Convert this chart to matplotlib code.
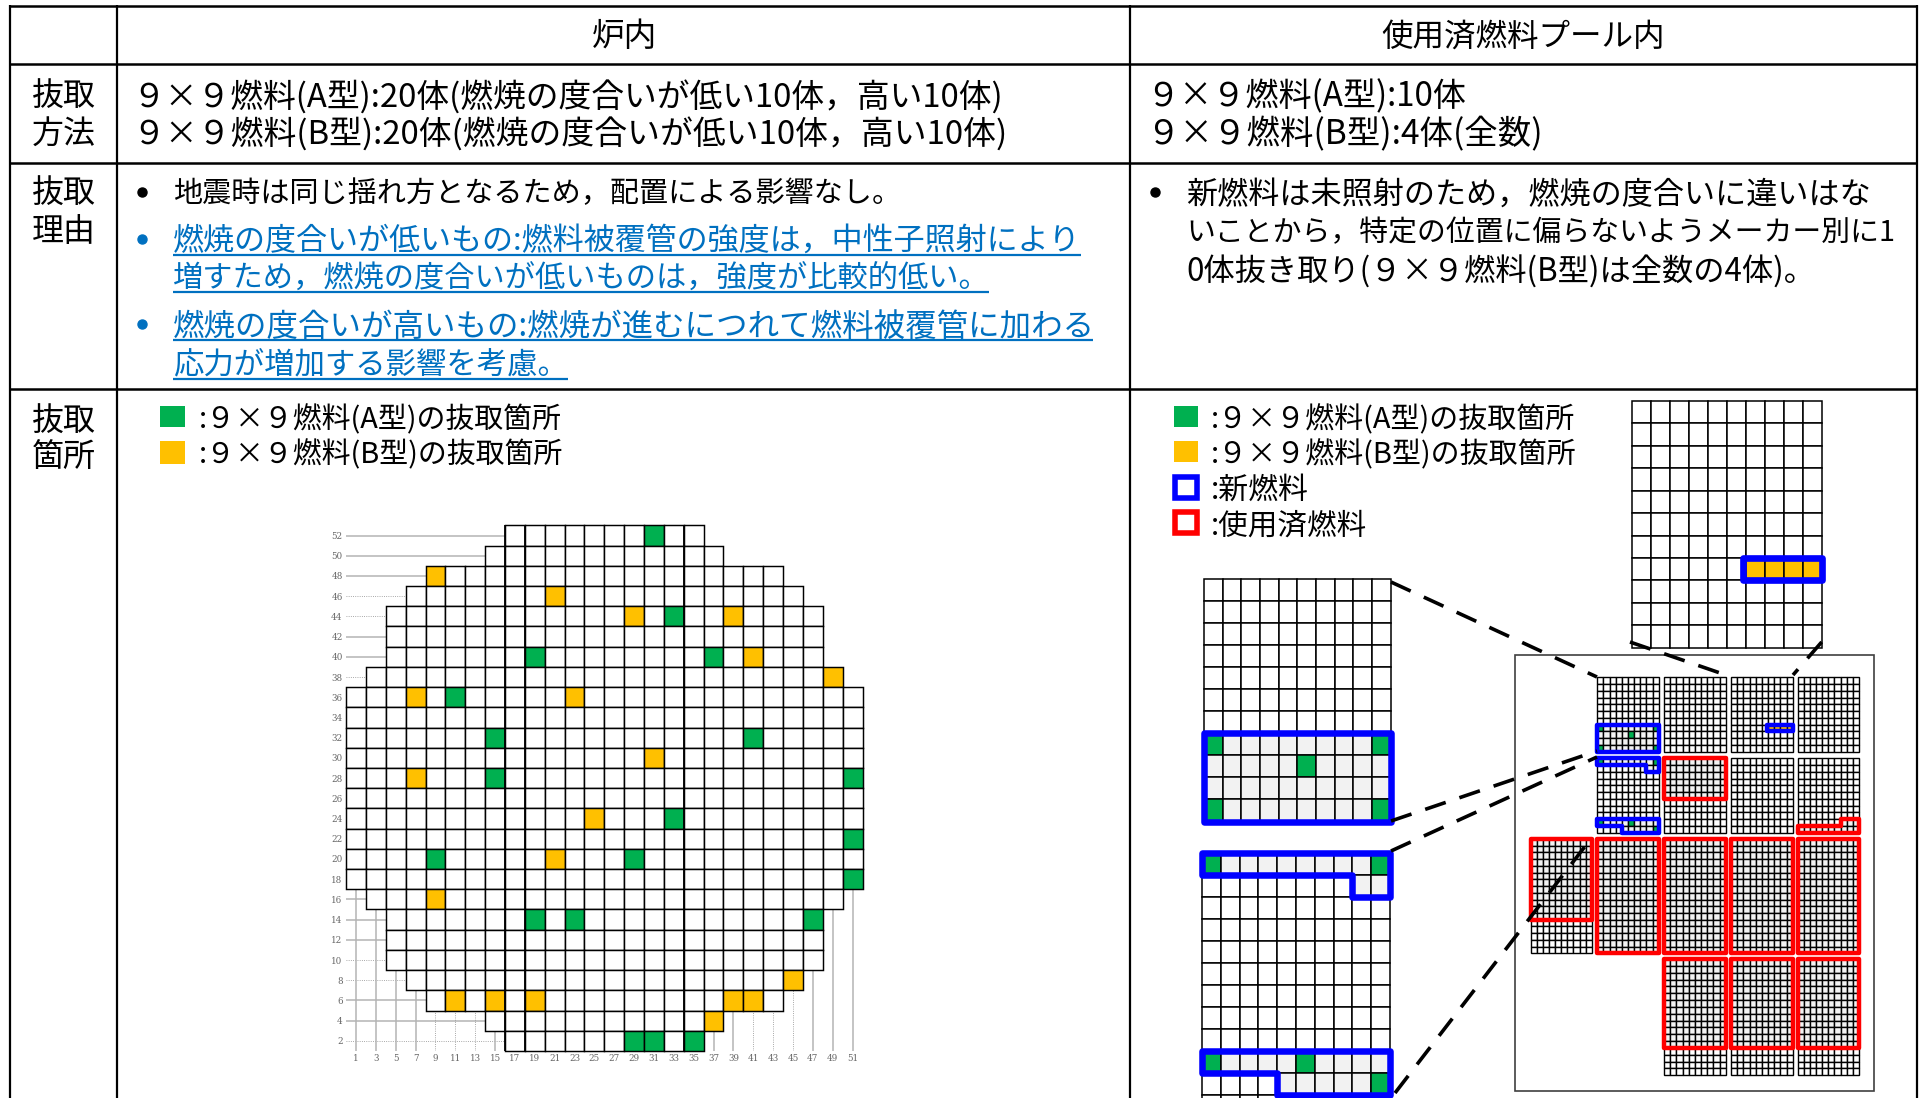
import matplotlib
matplotlib.use("Agg")
import matplotlib.pyplot as plt
from matplotlib.patches import Rectangle, Polygon

plt.rcParams['font.family'] = ['Noto Sans CJK JP', 'DejaVu Sans']

W, H = 1919, 1098
GREEN, YELLOW, BLUE, RED = '#00B050', '#FFC000', '#0000FF', '#FF0000'
LINK = '#0070C0'
SPENT = '#F2F2F2'

# ---- core map data (col, row labels) ----
core_rows = [52, 50, 48, 46, 44, 42, 40, 38, 36, 34, 32, 30, 28, 26, 24, 22, 20, 18, 16, 14, 12, 10, 8, 6, 4, 2]
core_first = [17, 15, 9, 7, 5, 5, 5, 3, 1, 1, 1, 1, 1, 1, 1, 1, 1, 1, 3, 5, 5, 5, 7, 9, 15, 17]
core_last = [35, 37, 43, 45, 47, 47, 47, 49, 51, 51, 51, 51, 51, 51, 51, 51, 51, 51, 49, 47, 47, 47, 45, 43, 37, 35]
core_green = [(31, 52), (33, 44), (19, 40), (37, 40), (11, 36), (15, 32), (41, 32), (15, 28), (51, 28), (33, 24),
              (51, 22), (9, 20), (29, 20), (51, 18), (19, 14), (23, 14), (47, 14), (29, 2), (31, 2), (35, 2)]
core_yellow = [(9, 48), (21, 46), (29, 44), (39, 44), (41, 40), (49, 38), (7, 36), (23, 36), (31, 30), (7, 28),
               (25, 24), (21, 20), (9, 16), (45, 8), (11, 6), (15, 6), (19, 6), (39, 6), (41, 6), (37, 4)]
core_cols = list(range(1, 52, 2))
dotted_rows = [46, 44, 38, 10, 8, 2]
dotted_cols = [9, 11, 13, 41, 43, 45]

# ---- table text ----
head_core = '炉内'
head_pool = '使用済燃料プール内'
row_labels = [('抜取', '方法'), ('抜取', '理由'), ('抜取', '箇所')]
method_core = ['９×９燃料(A型):20体(燃焼の度合いが低い10体，高い10体)',
               '９×９燃料(B型):20体(燃焼の度合いが低い10体，高い10体)']
method_pool = ['９×９燃料(A型):10体', '９×９燃料(B型):4体(全数)']
reason_core = '地震時は同じ揺れ方となるため，配置による影響なし。'
reason_low = ['燃焼の度合いが低いもの:燃料被覆管の強度は，中性子照射により',
              '増すため，燃焼の度合いが低いものは，強度が比較的低い。']
reason_high = ['燃焼の度合いが高いもの:燃焼が進むにつれて燃料被覆管に加わる',
               '応力が増加する影響を考慮。']
reason_pool = ['新燃料は未照射のため，燃焼の度合いに違いはな',
               'いことから，特定の位置に偏らないようメーカー別に1',
               '0体抜き取り(９×９燃料(B型)は全数の4体)。']
legend_a = ':９×９燃料(A型)の抜取箇所'
legend_b = ':９×９燃料(B型)の抜取箇所'
legend_new = ':新燃料'
legend_used = ':使用済燃料'

# ---- pool rack data: (col, row) in rack cells ----
rack_a_green = [(0, 7), (9, 7), (5, 8), (0, 10), (9, 10)]
rack_b_green = [(0, 0), (9, 0), (0, 9), (5, 9), (9, 10)]
rack_y_cells = [(6, 7), (7, 7), (8, 7), (9, 7)]
shape_four = [(0, 7), (10, 7), (10, 11), (0, 11)]
shape_top = [(0, 0), (10, 0), (10, 2), (8, 2), (8, 1), (0, 1)]
shape_bot = [(0, 9), (10, 9), (10, 11), (4, 11), (4, 10), (0, 10)]
shape_yel = [(5.85, 7), (10, 7), (10, 8), (5.85, 8)]
shape_red_l = [(0, 10), (7, 10), (7, 9), (10, 9), (10, 11), (0, 11)]

fig = plt.figure(figsize=(W / 100, H / 100), dpi=100)
ax = fig.add_axes([0, 0, 1, 1])
ax.set_xlim(0, W)
ax.set_ylim(H, 0)
ax.axis('off')
renderer = fig.canvas.get_renderer()


def fit(x0, x1, y, s, color='black', base=21):
    t = ax.text(x0, y + 2, s, fontsize=base, color=color, ha='left', va='center')
    w = t.get_window_extent(renderer).width
    t.set_fontsize(base * (x1 - x0) / w)
    return t


def sub_axes(x0, y0, x1, y1, xlim, ylim):
    a = fig.add_axes([x0 / W, 1 - y1 / H, (x1 - x0) / W, (y1 - y0) / H])
    a.set_xlim(*xlim)
    a.set_ylim(*ylim)
    a.patch.set_alpha(0)
    for s in a.spines.values():
        s.set_visible(False)
    a.set_xticks([])
    a.set_yticks([])
    return a


# ---- table rules ----
for y in (5.5, 64, 162.5, 389):
    ax.plot([9, 1917], [y, y], color='black', lw=1.8, solid_capstyle='butt')
for x in (9.5, 117, 1130, 1917):
    ax.plot([x, x], [5, H], color='black', lw=1.6, solid_capstyle='butt')

ax.text(624, 37, head_core, fontsize=23.5, ha='center', va='center')
ax.text(1523.5, 37, head_pool, fontsize=22.7, ha='center', va='center')
for (a, b), (y1, y2) in zip(row_labels, [(97, 134), (193.5, 231.5), (421.5, 458)]):
    ax.text(63.5, y1, a, fontsize=23, ha='center', va='center')
    ax.text(63.5, y2, b, fontsize=23, ha='center', va='center')

fit(132, 1003, 95, method_core[0])
fit(132, 1005, 133, method_core[1])
fit(1146, 1466, 95, method_pool[0])
fit(1146, 1542, 133, method_pool[1])

ax.plot([142], [192], 'o', color='black', ms=6.5)
fit(173, 899, 192.5, reason_core)
for y in (239, 324):
    ax.plot([142], [y], 'o', color=LINK, ms=6.5)
for (y, yu, x1), s in zip([(239, 255, 1081), (277, 292, 989), (325, 340, 1093), (363, 379, 568)],
                          reason_low + reason_high):
    fit(173, x1, y, s, color=LINK)
    ax.plot([173, x1], [yu, yu], color=LINK, lw=1.6, solid_capstyle='butt')
ax.plot([1155], [192], 'o', color='black', ms=6.5)
for (y, x1), s in zip([(193, 1869), (231, 1893), (270, 1815)], reason_pool):
    fit(1186, x1, y, s)

# ---- legends ----
ax.add_patch(Rectangle((160, 406), 25, 21, fc=GREEN, ec='none'))
ax.add_patch(Rectangle((160, 441), 25, 23, fc=YELLOW, ec='none'))
fit(199, 562, 418, legend_a)
fit(199, 563, 453, legend_b)
ax.add_patch(Rectangle((1174, 406), 24, 21, fc=GREEN, ec='none'))
ax.add_patch(Rectangle((1174, 441), 24, 21, fc=YELLOW, ec='none'))
ax.add_patch(Rectangle((1175, 477), 22, 21, fc='none', ec=BLUE, lw=4))
ax.add_patch(Rectangle((1175, 512), 22, 21, fc='none', ec=RED, lw=4))
fit(1211, 1575, 418, legend_a)
fit(1211, 1577, 453, legend_b)
fit(1211, 1309, 488, legend_new)
fit(1211, 1367, 524, legend_used)

# ---- core map ----
core = sub_axes(346.1, 525.4, 862.5, 1051, (0, 52), (1, 53))
for row, c0, c1 in zip(core_rows, core_first, core_last):
    cols = [c for c in core_cols if c0 <= c <= c1]
    colors = [GREEN if (c, row) in core_green else YELLOW if (c, row) in core_yellow else 'white' for c in cols]
    core.bar(cols, 2, width=2, bottom=row - 1, color=colors, edgecolor='black', linewidth=1.05, zorder=3, clip_on=False)
    first_x = c0 - 1
    if row in dotted_rows:
        core.plot([0, first_x], [row, row], color='#8C8C8C', lw=0.6, ls=':', zorder=1)
    else:
        core.plot([0, first_x], [row, row], color='#B4B4B4', lw=1.1, zorder=1)
for col in core_cols:
    low = min(r for r, c0, c1 in zip(core_rows, core_first, core_last) if c0 <= col <= c1) - 1
    if col in dotted_cols:
        core.plot([col, col], [1, low], color='#8C8C8C', lw=0.6, ls=':', zorder=1)
    else:
        core.plot([col, col], [1, low], color='#B4B4B4', lw=1.1, zorder=1)
for edge in (16, 18, 34):
    top = max(r for r, c0, c1 in zip(core_rows, core_first, core_last) if c0 <= edge + 1 <= c1) + 1
    low = min(r for r, c0, c1 in zip(core_rows, core_first, core_last) if c0 <= edge + 1 <= c1) - 1
    core.plot([edge, edge], [low, top], color='black', lw=1.3, zorder=4)
core.set_xticks(core_cols)
core.set_xticklabels(core_cols)
core.set_yticks(core_rows)
core.set_yticklabels(core_rows)
core.tick_params(length=0, labelsize=6.3, labelcolor='#666666', pad=2.5)
for lab in core.get_xticklabels() + core.get_yticklabels():
    lab.set_family('DejaVu Serif')


# ---- racks ----
def rack(x0, y0, x1, y1, nrows, gray=None, green=(), yellow=(), outline=None, lw=3.2, gridlw=0.8):
    a = sub_axes(x0, y0, x1, y1, (0, 10), (nrows, 0))
    for r in range(nrows):
        cols = list(range(10))
        colors = []
        for c in cols:
            if (c, r) in green:
                colors.append(GREEN)
            elif (c, r) in yellow:
                colors.append(YELLOW)
            elif gray and gray(c, r):
                colors.append(SPENT)
            else:
                colors.append('white')
        a.bar([c + 0.5 for c in cols], 1, width=1, bottom=r, color=colors, edgecolor='black',
              linewidth=gridlw, zorder=2, clip_on=False)
    for shape, col in (outline or []):
        a.add_patch(Polygon(shape, closed=True, fc='none', ec=col, lw=lw, joinstyle='round',
                            zorder=5, clip_on=False))
    return a


def in_shape(shape):
    p = Polygon(shape, closed=True)
    return lambda c, r: p.get_path().contains_point((c + 0.5, r + 0.5))


# enlarged racks
rack(1204, 578.9, 1390.7, 821.5, 11, gray=in_shape(shape_four), green=rack_a_green,
     outline=[(shape_four, BLUE)], lw=4.7, gridlw=1.1)
big_gray = lambda c, r: in_shape(shape_top)(c, r) or in_shape(shape_bot)(c, r)
rack(1202, 853.4, 1390, 1117.4, 12, gray=big_gray, green=rack_b_green,
     outline=[(shape_top, BLUE), (shape_bot, BLUE)], lw=4.7, gridlw=1.1)
rack(1632.3, 401, 1821.7, 647.7, 11, yellow=rack_y_cells, outline=[(shape_yel, BLUE)], lw=4.8, gridlw=1.1)

# pool map
ax.add_patch(Rectangle((1515, 654.7), 359, 436.3, fc='none', ec='#404040', lw=1.2))
cx = [(1530.7, 1591.7), (1597.3, 1658.7), (1664, 1725.7), (1731, 1792.7), (1797.7, 1859)]
ry = [(677.3, 751.7, 11), (758.3, 832.7, 11), (839, 953.3, 17), (959, 1075.3, 17)]
every = lambda c, r: True
s = dict(gridlw=1.0)
rack(*[cx[1][0], ry[0][0], cx[1][1], ry[0][1]], 11, gray=in_shape(shape_four), green=rack_a_green,
     outline=[(shape_four, BLUE)], **s)
rack(*[cx[2][0], ry[0][0], cx[2][1], ry[0][1]], 11, **s)
rack(*[cx[3][0], ry[0][0], cx[3][1], ry[0][1]], 11, yellow=rack_y_cells, outline=[(shape_yel, BLUE)], **s)
rack(*[cx[4][0], ry[0][0], cx[4][1], ry[0][1]], 11, **s)
rack(*[cx[1][0], ry[1][0], cx[1][1], ry[1][1]], 11, gray=big_gray, green=rack_b_green,
     outline=[(shape_top, BLUE), (shape_bot, BLUE)], **s)
shape_c = [(0, 0), (10, 0), (10, 6), (0, 6)]
rack(*[cx[2][0], ry[1][0], cx[2][1], ry[1][1]], 11, gray=in_shape(shape_c), outline=[(shape_c, RED)], **s)
rack(*[cx[3][0], ry[1][0], cx[3][1], ry[1][1]], 11, **s)
rack(*[cx[4][0], ry[1][0], cx[4][1], ry[1][1]], 11, gray=in_shape(shape_red_l), outline=[(shape_red_l, RED)], **s)
shape_a = [(0, 0), (10, 0), (10, 12), (0, 12)]
shape_full = [(0, 0), (10, 0), (10, 17), (0, 17)]
shape_13 = [(0, 0), (10, 0), (10, 13), (0, 13)]
rack(*[cx[0][0], ry[2][0], cx[0][1], ry[2][1]], 17, gray=in_shape(shape_a), outline=[(shape_a, RED)], **s)
for i in (1, 2, 3, 4):
    rack(*[cx[i][0], ry[2][0], cx[i][1], ry[2][1]], 17, gray=every, outline=[(shape_full, RED)], **s)
for i in (2, 3, 4):
    rack(*[cx[i][0], ry[3][0], cx[i][1], ry[3][1]], 17, gray=in_shape(shape_13), outline=[(shape_13, RED)], **s)

# ---- leader lines, on top of everything ----
top = sub_axes(0, 0, W, H, (0, W), (H, 0))
top.set_zorder(20)
for (xa, ya), (xb, yb) in [((1391, 582), (1597, 677)), ((1391, 821), (1597, 751)),
                           ((1391, 851), (1597, 757)), ((1395, 1093), (1593, 836)),
                           ((1630, 642), (1723, 674)), ((1821.7, 642), (1793, 675))]:
    top.plot([xa, xb], [ya, yb], color='black', lw=2.6, dashes=(6, 4), dash_capstyle='butt')

fig.savefig('out.png', dpi=100)
